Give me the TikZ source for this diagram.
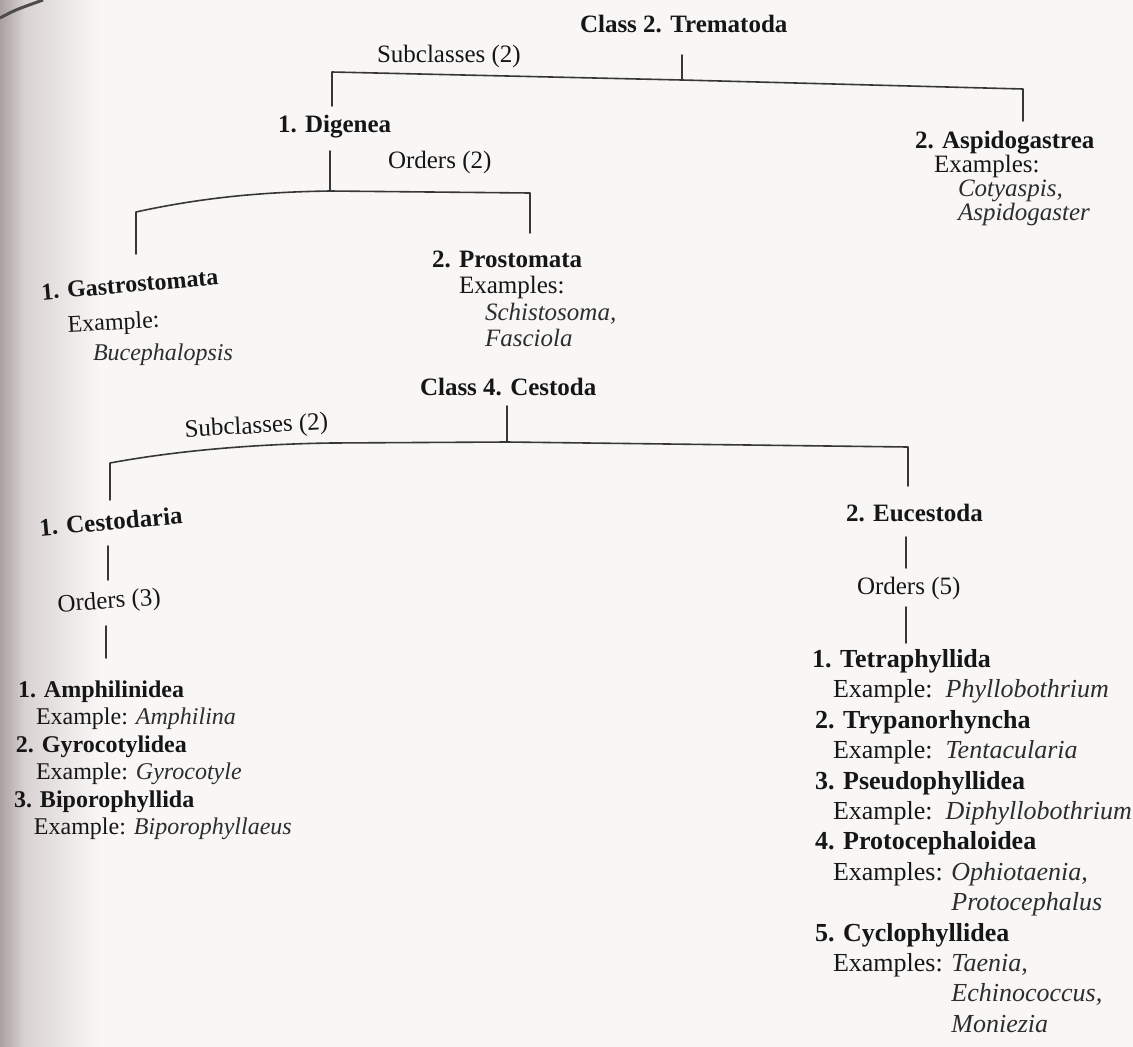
\documentclass[tikz,border=0pt]{standalone}
\usepackage{fontspec}
\setmainfont{Liberation Serif}
\definecolor{ink}{RGB}{22,22,22}
\definecolor{inki}{RGB}{45,45,45}
\definecolor{lin}{RGB}{55,55,55}
\definecolor{paper}{RGB}{248,247,246}
\definecolor{shadowdark}{RGB}{170,160,160}
\definecolor{shadowmid}{RGB}{218,211,211}
\newcommand\myfs{\fontsize{25}{28}\selectfont}
\newcommand\myfsl{\fontsize{24}{27}\selectfont}
\newcommand\myfsb{\fontsize{26}{30}\selectfont}
\newcommand\myit[1]{\textcolor{inki}{\textit{#1}}}
\begin{document}
\begin{tikzpicture}[x=1pt,y=-1pt,
  txt/.style={anchor=base west, inner sep=0pt, outer sep=0pt, text=ink, font=\myfs},
  ltxt/.style={txt, font=\myfsl},
  rtxt/.style={txt, font=\myfsb},
  conn/.style={draw=lin, line width=1.6pt, line cap=round, line join=round}]
\useasboundingbox (0,0) rectangle (1133,1047);
\fill[paper] (0,0) rectangle (1133,1047);
\shade[left color=shadowdark, right color=shadowmid] (0,0) rectangle (25,1047);
\shade[left color=shadowmid, right color=paper] (25,0) rectangle (100,1047);
\draw[line width=3pt, black!70] (0,18) .. controls (15,10) .. (43,0);

% ---------- Class 2 ----------
\node[txt] (c2) at (580,32) {\textbf{Class 2. Trematoda}};
\node[txt] (sc1) at (377,62) {Subclasses (2)};
\coordinate (c2a) at (682,55);
\coordinate (c2b) at (682,80);
\coordinate (tl) at (332,72);
\coordinate (tr) at (1023,89);
\coordinate (tlb) at (332,106);
\coordinate (trb) at (1023,121);
\draw[conn] (c2a) -- (c2b);
\draw[conn] (tlb) -- (tl) -- (c2b) -- (tr) -- (trb);

\node[txt] (dig) at (278,132) {\textbf{1. Digenea}};
\coordinate (da) at (330,151);
\coordinate (db) at (330,191);
\coordinate (ol) at (136,212);
\coordinate (or) at (530,193);
\coordinate (olb) at (136,254);
\coordinate (orb) at (530,233);
\draw[conn] (da) -- (db);
\draw[conn] (olb) -- (ol) .. controls (200,198) and (260,192) .. (db) -- (or) -- (orb);
\node[txt] (ord2) at (388,168) {Orders (2)};

\node[ltxt, rotate=5] (g1) at (42,300) {\textbf{1. Gastrostomata}};
\node[ltxt, rotate=3] (g2) at (68,332) {Example:};
\node[ltxt] (g3) at (93,360) {\myit{Bucephalopsis}};

\node[txt] (p1) at (432,267) {\textbf{2. Prostomata}};
\node[txt] (p2) at (459,293) {Examples:};
\node[txt] (p3) at (485,320) {\myit{Schistosoma,}};
\node[txt] (p4) at (485,346) {\myit{Fasciola}};

\node[txt] (a1) at (915,148) {\textbf{2. Aspidogastrea}};
\node[txt] (a2) at (934,172) {Examples:};
\node[txt] (a3) at (958,196) {\myit{Cotyaspis,}};
\node[txt] (a4) at (958,220) {\myit{Aspidogaster}};

% ---------- Class 4 ----------
\node[txt] (c4) at (420,395) {\textbf{Class 4. Cestoda}};
\coordinate (c4a) at (507,406);
\coordinate (c4b) at (507,442);
\draw[conn] (c4a) -- (c4b);
\node[txt, rotate=3] (sc2) at (185,437) {Subclasses (2)};
\coordinate (bl) at (110,463);
\coordinate (bm) at (332,443);
\coordinate (br) at (908,447);
\coordinate (blb) at (110,500);
\coordinate (brb) at (908,486);
\draw[conn] (blb) -- (bl) .. controls (180,450) and (260,444) .. (bm) -- (c4b) -- (br) -- (brb);

\node[txt, rotate=5] (ce) at (40,536) {\textbf{1. Cestodaria}};
\coordinate (cea) at (108,546);
\coordinate (ceb) at (108,580);
\draw[conn] (cea) -- (ceb);
\node[txt, rotate=4] (o3) at (58,612) {Orders (3)};
\coordinate (o3a) at (106,626);
\coordinate (o3b) at (106,658);
\draw[conn] (o3a) -- (o3b);

\node[ltxt] (l1) at (18,697) {\textbf{1. Amphilinidea}};
\node[ltxt] (l2) at (36,724) {Example: \myit{Amphilina}};
\node[ltxt] (l3) at (16,752) {\textbf{2. Gyrocotylidea}};
\node[ltxt] (l4) at (36,779) {Example: \myit{Gyrocotyle}};
\node[ltxt] (l5) at (14,807) {\textbf{3. Biporophyllida}};
\node[ltxt] (l6) at (34,834) {Example: \myit{Biporophyllaeus}};

\node[txt] (eu) at (846,521) {\textbf{2. Eucestoda}};
\coordinate (eua) at (906,537);
\coordinate (eub) at (906,568);
\draw[conn] (eua) -- (eub);
\node[txt] (o5) at (857,594) {Orders (5)};
\coordinate (o5a) at (906,607);
\coordinate (o5b) at (906,643);
\draw[conn] (o5a) -- (o5b);

\node[rtxt] (r1) at (812,667) {\textbf{1. Tetraphyllida}};
\node[rtxt] (r2) at (833,697) {Example:\ \ \myit{Phyllobothrium}};
\node[rtxt] (r3) at (815,728) {\textbf{2. Trypanorhyncha}};
\node[rtxt] (r4) at (833,758) {Example:\ \ \myit{Tentacularia}};
\node[rtxt] (r5) at (815,789) {\textbf{3. Pseudophyllidea}};
\node[rtxt] (r6) at (833,819) {Example:\ \ \myit{Diphyllobothrium}};
\node[rtxt] (r7) at (815,849) {\textbf{4. Protocephaloidea}};
\node[rtxt] (r8) at (833,880) {Examples: \myit{Ophiotaenia,}};
\node[rtxt] (r9) at (833,910) {\hphantom{Examples: }\myit{Protocephalus}};
\node[rtxt] (r10) at (815,941) {\textbf{5. Cyclophyllidea}};
\node[rtxt] (r11) at (833,971) {Examples: \myit{Taenia,}};
\node[rtxt] (r12) at (833,1001) {\hphantom{Examples: }\myit{Echinococcus,}};
\node[rtxt] (r13) at (833,1032) {\hphantom{Examples: }\myit{Moniezia}};
\end{tikzpicture}
\end{document}
